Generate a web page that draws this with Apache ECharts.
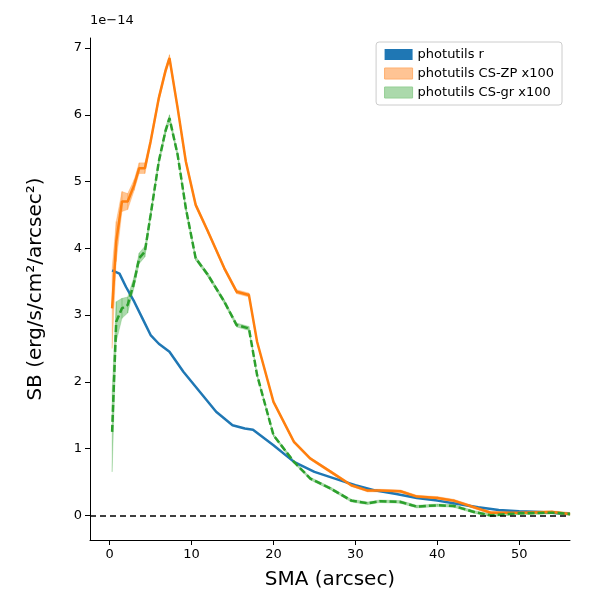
<!DOCTYPE html>
<html lang="en">
<head>
    <meta charset="UTF-8">
    <title>SB profile</title>
    <script src="https://cdn.jsdelivr.net/npm/echarts@6/dist/echarts.min.js"></script>
</head>
<body style="margin:0">
    <div id="chart" style="width: 600px; height: 600px;"></div>
    <script>
        // values in units of 1e-14
        var smaR = [0.3, 1.2, 2, 3, 4, 5, 6, 7.3, 9, 11, 13, 15, 16.5, 17.5, 20, 22.5, 25, 27.5, 30, 32.5, 35, 37.5, 40, 42.5, 45, 47.5, 50, 52.5, 55, 56.2];
        var sbR = [3.67, 3.62, 3.42, 3.2, 2.95, 2.7, 2.57, 2.45, 2.15, 1.85, 1.55, 1.35, 1.3, 1.28, 1.05, 0.8, 0.65, 0.55, 0.45, 0.37, 0.32, 0.26, 0.22, 0.17, 0.12, 0.08, 0.06, 0.05, 0.03, 0.02];

        var smaC = [0.3, 0.8, 1.5, 2.2, 3, 3.6, 4.3, 5, 6, 6.8, 7.3, 8.3, 9.3, 10.5, 12, 14, 15.5, 17, 18, 20, 22.5, 24.5, 27, 29.5, 31.5, 33, 35.5, 37.5, 40, 42, 44.5, 46.5, 50, 54, 56.2];
        var sbZP = [3.1, 4.1, 4.7, 4.7, 4.95, 5.2, 5.2, 5.6, 6.25, 6.65, 6.85, 6.1, 5.3, 4.65, 4.25, 3.7, 3.35, 3.3, 2.6, 1.7, 1.1, 0.85, 0.65, 0.45, 0.37, 0.37, 0.36, 0.28, 0.26, 0.22, 0.12, 0.04, 0.04, 0.05, 0.02];
        var errZP = [0.6, 0.3, 0.15, 0.12, 0.08, 0.08, 0.08, 0.05, 0.05, 0.05, 0.05, 0.04, 0.04, 0.03, 0.03, 0.03, 0.03, 0.03, 0.02, 0.02, 0.02, 0.02, 0.02, 0.02, 0.02, 0.02, 0.02, 0.02, 0.02, 0.02, 0.02, 0.02, 0.02, 0.02, 0.02];
        var sbGR = [1.25, 2.9, 3.1, 3.15, 3.5, 3.85, 3.95, 4.5, 5.3, 5.75, 5.95, 5.4, 4.6, 3.85, 3.6, 3.2, 2.85, 2.8, 2.1, 1.2, 0.8, 0.55, 0.4, 0.22, 0.18, 0.21, 0.2, 0.13, 0.15, 0.14, 0.05, 0.0, 0.03, 0.04, 0.02];
        var errGR = [0.6, 0.3, 0.15, 0.12, 0.08, 0.08, 0.08, 0.05, 0.05, 0.05, 0.05, 0.04, 0.04, 0.03, 0.03, 0.03, 0.03, 0.03, 0.02, 0.02, 0.02, 0.02, 0.02, 0.02, 0.02, 0.02, 0.02, 0.02, 0.02, 0.02, 0.02, 0.02, 0.02, 0.02, 0.02];
        var xTicks = [0, 10, 20, 30, 40, 50];
        var yTicks = [0, 1, 2, 3, 4, 5, 6, 7];

        function pairs(xs, ys) {
            return xs.map(function (x, i) { return [x, ys[i]]; });
        }
        // error band: one quad between consecutive points
        function bandSeries(name, xs, ys, err, color) {
            var data = xs.map(function (x, i) { return [x, ys[i] - err[i], ys[i] + err[i]]; });
            return {
                name: name, type: 'custom', silent: true, itemStyle: { color: color },
                data: data,
                renderItem: function (params, api) {
                    var i = params.dataIndex;
                    if (i >= data.length - 1) return null;
                    var a = data[i], b = data[i + 1];
                    var pts = [api.coord([a[0], a[1]]), api.coord([b[0], b[1]]),
                               api.coord([b[0], b[2]]), api.coord([a[0], a[2]])];
                    return { type: 'polygon', shape: { points: pts },
                             style: { fill: color, stroke: color, lineWidth: 0.5 } };
                }
            };
        }

        var chart = echarts.init(document.getElementById('chart'));
        var series = [
            bandSeries('photutils CS-ZP x100', smaC, sbZP, errZP, 'rgba(255,127,14,0.45)'),
            bandSeries('photutils CS-gr x100', smaC, sbGR, errGR, 'rgba(44,160,44,0.4)'),
            { name: 'photutils r', type: 'line', symbol: 'none', data: pairs(smaR, sbR),
              lineStyle: { color: '#1f77b4', width: 2.5 }, itemStyle: { color: '#1f77b4' },
              markLine: { symbol: 'none', silent: true, label: { show: false },
                  lineStyle: { color: '#000', type: [6, 4], width: 1.5 }, data: [{ yAxis: 0 }] } },
            { name: 'zp line', type: 'line', symbol: 'none', data: pairs(smaC, sbZP),
              lineStyle: { color: '#ff7f0e', width: 2.5 } },
            { name: 'gr line', type: 'line', symbol: 'none', data: pairs(smaC, sbGR),
              lineStyle: { color: '#2ca02c', width: 2.5, type: [7, 3] } }
        ];

        chart.setOption({
            animation: false,
            grid: { left: 90, right: 30, top: 38, bottom: 60 },
            graphic: [{ type: 'text', left: 90, top: 14, style: { text: '1e\u221214', font: '13px DejaVu Sans', fill: '#000' } }],
            legend: {
                right: 38, top: 42, orient: 'vertical', itemGap: 6, itemWidth: 28, itemHeight: 11,
                padding: [6, 8], borderColor: '#ccc', borderWidth: 1, borderRadius: 3,
                textStyle: { fontFamily: 'DejaVu Sans', fontSize: 13, color: '#000' },
                data: [
                    { name: 'photutils r', icon: 'rect', itemStyle: { color: '#1f77b4' } },
                    { name: 'photutils CS-ZP x100', icon: 'rect', itemStyle: { color: '#ffc494', borderColor: '#ffb070', borderWidth: 1 } },
                    { name: 'photutils CS-gr x100', icon: 'rect', itemStyle: { color: '#abd9ab', borderColor: '#95cf95', borderWidth: 1 } }
                ]
            },
            xAxis: {
                type: 'value', min: -2.4, max: 56.2,
                name: 'SMA (arcsec)', nameLocation: 'middle', nameGap: 30,
                nameTextStyle: { fontFamily: 'DejaVu Sans', fontSize: 20, color: '#000' },
                axisLine: { onZero: false, lineStyle: { color: '#000' } },
                splitLine: { show: false },
                axisTick: { customValues: xTicks, lineStyle: { color: '#000' } },
                axisLabel: { customValues: xTicks, fontFamily: 'DejaVu Sans', fontSize: 13, color: '#000' }
            },
            yAxis: {
                type: 'value', min: -0.37, max: 7.15,
                name: 'SB (erg/s/cm\u00b2/arcsec\u00b2)', nameLocation: 'middle', nameGap: 44,
                nameTextStyle: { fontFamily: 'DejaVu Sans', fontSize: 20, color: '#000' },
                axisLine: { show: true, onZero: false, lineStyle: { color: '#000' } },
                splitLine: { show: false },
                axisTick: { show: true, customValues: yTicks, lineStyle: { color: '#000' } },
                axisLabel: { customValues: yTicks, fontFamily: 'DejaVu Sans', fontSize: 13, color: '#000' }
            },
            series: series
        });
    </script>
</body>
</html>
